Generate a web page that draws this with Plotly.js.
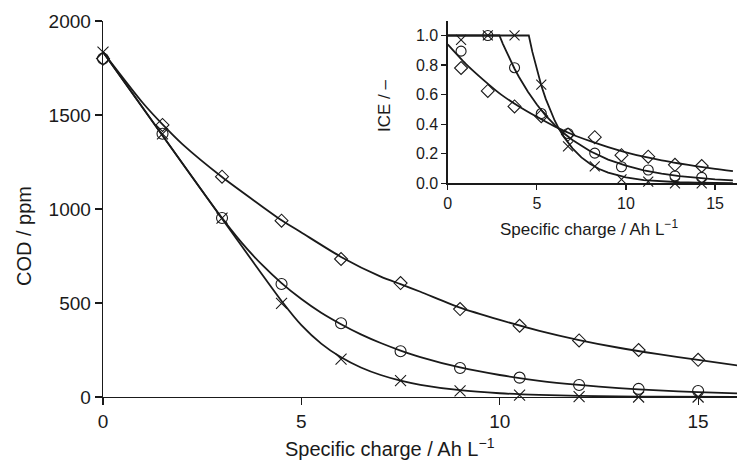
<!DOCTYPE html>
<html>
<head>
<meta charset="utf-8">
<script src="https://cdn.plot.ly/plotly-3.0.1.min.js"></script>
<style>
html,body{margin:0;padding:0;background:#fff;}
#chart{width:737px;height:461px;}
</style>
</head>
<body>
<div id="chart"></div>
<script>
// ---- Main plot: COD vs specific charge (measured points) ----
var codX = [0, 1.5, 3, 4.5, 6, 7.5, 9, 10.5, 12, 13.5, 15];
var codDiamond = [1800, 1447, 1172, 938, 734, 606, 468, 379, 301, 250, 198];
var codCircle  = [1800, 1400, 952, 601, 392, 243, 154, 103, 64, 43, 32];
var codCross   = [1835, 1400, 952, 498, 202, 87, 32, 10, 2, 0, 0];

// ---- Main plot: model curves ----
var fitDiamondX = [0, 1, 1.5, 2, 3, 4, 4.5, 5, 6, 7, 7.5, 8, 9, 10, 11, 12, 13, 14, 15, 16];
var fitDiamondY = [1835, 1565, 1450, 1345, 1170, 1015, 940, 875, 745, 640, 600, 560, 475, 410, 352, 303, 262, 228, 197, 168];
var fitCircleX = [0, 2.9, 3.5, 4, 4.5, 5, 5.5, 6, 6.5, 7, 7.5, 8, 9, 10, 11, 12, 13, 14, 15, 16];
var fitCircleY = [1835, 980, 820, 705, 606, 521, 448, 387, 333, 287, 247, 212, 157, 117, 86, 64, 47, 35, 26, 19];
var fitCrossX = [0, 4.55, 5, 5.5, 6, 6.5, 7, 7.5, 8, 9, 10, 11, 12, 13, 14, 16];
var fitCrossY = [1835, 497, 382, 284, 211, 157, 117, 87, 65, 36, 20, 11, 6, 3, 2, 0.5];

// ---- Inset: ICE vs specific charge (measured points) ----
var iceX = [0.75, 2.25, 3.75, 5.25, 6.75, 8.25, 9.75, 11.25, 12.75, 14.25];
var iceDiamond = [0.78, 0.625, 0.52, 0.454, 0.33, 0.312, 0.19, 0.18, 0.125, 0.117];
var iceCircle  = [0.894, 1.0, 0.782, 0.472, 0.337, 0.204, 0.112, 0.09, 0.05, 0.04];
var iceCross   = [0.97, 1.0, 1.0, 0.667, 0.25, 0.115, 0.027, 0.012, 0.0, 0.0];

// ---- Inset: model curves ----
var iceFitDiamondX = [0, 1, 2, 3, 4, 5, 6, 7, 8, 9, 10, 11, 12, 13, 14, 15, 16];
var iceFitDiamondY = [0.94, 0.81, 0.70, 0.60, 0.52, 0.45, 0.385, 0.33, 0.285, 0.245, 0.21, 0.18, 0.155, 0.134, 0.115, 0.097, 0.082];
var iceFitCircleX = [0, 2.9, 3.1, 3.3, 3.5, 3.75, 4, 4.25, 4.5, 5, 5.5, 6, 6.5, 7, 7.5, 8, 9, 10, 11, 12, 13, 14, 15, 16];
var iceFitCircleY = [1, 1, 0.942, 0.887, 0.835, 0.775, 0.719, 0.667, 0.619, 0.533, 0.458, 0.395, 0.34, 0.293, 0.252, 0.217, 0.16, 0.119, 0.088, 0.065, 0.048, 0.036, 0.027, 0.02];
var iceFitCrossX = [0, 4.55, 4.75, 5, 5.25, 5.5, 5.75, 6, 6.25, 6.5, 7, 7.5, 8, 8.5, 9, 10, 11, 12, 13, 14, 16];
var iceFitCrossY = [1, 1, 0.889, 0.767, 0.662, 0.571, 0.493, 0.425, 0.367, 0.317, 0.236, 0.175, 0.131, 0.097, 0.072, 0.040, 0.022, 0.012, 0.007, 0.004, 0.001];

var xTicks = [0, 5, 10, 15];
var codTicks = [0, 500, 1000, 1500, 2000];
var iceTicks = [0, 0.2, 0.4, 0.6, 0.8, 1.0];

var ink = '#1a1a1a';
var font = 'Liberation Sans, Arial, Helvetica, sans-serif';

function curve(x, y, xa, ya, w, shape) {
  return {x: x, y: y, xaxis: xa, yaxis: ya, mode: 'lines', type: 'scatter',
          line: {color: ink, width: w, shape: shape, smoothing: 0.6},
          hoverinfo: 'skip', showlegend: false, cliponaxis: false};
}
function pts(x, y, xa, ya, sym, size) {
  return {x: x, y: y, xaxis: xa, yaxis: ya, mode: 'markers', type: 'scatter',
          marker: {symbol: sym, size: size, color: ink, line: {color: ink, width: 1.1}},
          showlegend: false, cliponaxis: false};
}

var data = [
  curve(fitDiamondX, fitDiamondY, 'x', 'y', 1.8, 'spline'),
  curve(fitCircleX, fitCircleY, 'x', 'y', 1.8, 'spline'),
  curve(fitCrossX, fitCrossY, 'x', 'y', 1.8, 'spline'),
  pts(codX, codDiamond, 'x', 'y', 'diamond-open', 10),
  pts(codX, codCircle, 'x', 'y', 'circle-open', 11),
  pts(codX, codCross, 'x', 'y', 'x-thin-open', 11),
  curve(iceFitDiamondX, iceFitDiamondY, 'x2', 'y2', 1.8, 'spline'),
  curve(iceFitCircleX, iceFitCircleY, 'x2', 'y2', 1.8, 'linear'),
  curve(iceFitCrossX, iceFitCrossY, 'x2', 'y2', 1.8, 'linear'),
  pts(iceX, iceDiamond, 'x2', 'y2', 'diamond-open', 10),
  pts(iceX, iceCircle, 'x2', 'y2', 'circle-open', 10),
  pts(iceX, iceCross, 'x2', 'y2', 'x-thin-open', 10)
];

var W = 737, H = 461;
var axBase = {showgrid: false, zeroline: false, showline: true, linecolor: ink, linewidth: 1.3,
              ticks: 'outside', tickcolor: ink, tickwidth: 1.2, fixedrange: true};

var layout = {
  width: W, height: H,
  margin: {l: 0, r: 0, t: 0, b: 0, pad: 0},
  paper_bgcolor: '#fff', plot_bgcolor: 'rgba(0,0,0,0)',
  font: {family: font, color: ink},
  showlegend: false,
  xaxis: Object.assign({}, axBase, {domain: [103 / W, 1], range: [0, 15.98], anchor: 'y',
          tickvals: xTicks, ticklen: 7, tickfont: {size: 19, family: font, color: ink}}),
  yaxis: Object.assign({}, axBase, {domain: [(H - 397) / H, (H - 21) / H], range: [0, 2000], anchor: 'x',
          tickvals: codTicks, ticklen: 7, tickfont: {size: 19, family: font, color: ink}}),
  xaxis2: Object.assign({}, axBase, {domain: [447.7 / W, 1], range: [0, 16.23], anchor: 'y2',
          tickvals: xTicks, ticklen: 5, tickfont: {size: 16, family: font, color: ink}}),
  yaxis2: Object.assign({}, axBase, {domain: [(H - 183.3) / H, (H - 20.7) / H], range: [0, 1.1], anchor: 'x2',
          tickvals: iceTicks, tickformat: '.1f', ticklen: 5, tickfont: {size: 16, family: font, color: ink}}),
  annotations: [
    {text: 'Specific charge / Ah L<sup>\u22121</sup>', xref: 'paper', yref: 'paper',
     x: 390 / W, y: (H - 447) / H, xanchor: 'center', yanchor: 'middle', showarrow: false,
     font: {size: 20, family: font, color: ink}},
    {text: 'COD / ppm', xref: 'paper', yref: 'paper', textangle: -90,
     x: 24 / W, y: (H - 236) / H, xanchor: 'center', yanchor: 'middle', showarrow: false,
     font: {size: 20, family: font, color: ink}},
    {text: 'Specific charge / Ah L<sup>\u22121</sup>', xref: 'paper', yref: 'paper',
     x: 589 / W, y: (H - 228) / H, xanchor: 'center', yanchor: 'middle', showarrow: false,
     font: {size: 17, family: font, color: ink}},
    {text: 'ICE / \u2013', xref: 'paper', yref: 'paper', textangle: -90,
     x: 385 / W, y: (H - 105) / H, xanchor: 'center', yanchor: 'middle', showarrow: false,
     font: {size: 17, family: font, color: ink}}
  ]
};

Plotly.newPlot('chart', data, layout, {staticPlot: true, displayModeBar: false});
</script>
</body>
</html>
